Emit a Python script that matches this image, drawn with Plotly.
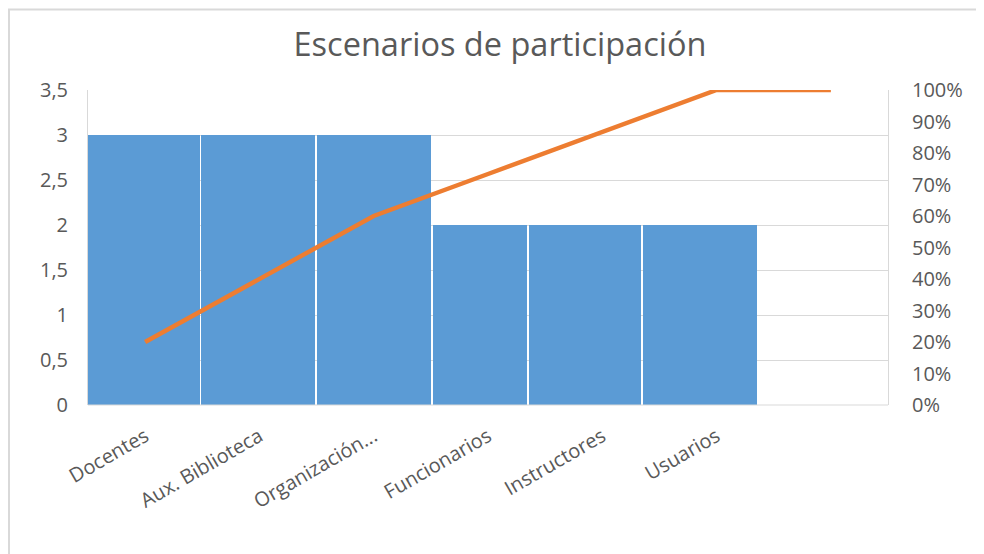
import plotly.graph_objects as go

categories = ["Docentes", "Aux. Biblioteca", "Organización...", "Funcionarios", "Instructores", "Usuarios", " "]
counts = [3, 3, 3, 2, 2, 2, None]
cumulative_pct = [0.20, 0.40, 0.60, 0.7333, 0.8667, 1.0, 1.0]

left_ticks = [0, 0.5, 1, 1.5, 2, 2.5, 3, 3.5]
left_tick_labels = ["0", "0,5", "1", "1,5", "2", "2,5", "3", "3,5"]
right_ticks = [i / 10 for i in range(11)]
right_tick_labels = [f"{i*10}%" for i in range(11)]

# style: bar placement within each category slot (mimics the original rendering)
bar_offsets = [-0.5, -0.511, -0.5, -0.482, -0.642, -0.644, -0.5]
bar_widths = [0.98, 0.997, 0.997, 0.823, 0.98, 0.997, 1.0]

font_family = "Open Sans, Noto Sans, sans-serif"
grey = "#595959"

fig = go.Figure()
fig.add_trace(go.Bar(
    x=categories, y=counts,
    marker=dict(color="#5B9BD5", line=dict(width=0)),
    offset=bar_offsets, width=bar_widths,
    showlegend=False, hoverinfo="skip",
))
fig.add_trace(go.Scatter(
    x=categories, y=cumulative_pct, yaxis="y2", mode="lines",
    line=dict(color="#ED7D31", width=4.5),
    showlegend=False, hoverinfo="skip",
))

fig.update_layout(
    width=976, height=546,
    margin=dict(l=80, r=96, t=82, b=149),
    paper_bgcolor="white", plot_bgcolor="white",
    bargap=0,
    title=dict(text="Escenarios de participación", x=(500 - 8) / 976, xanchor="center",
               y=1 - (45 - 8) / 546, yanchor="middle",
               font=dict(family="Open Sans, sans-serif", size=32.5, color=grey)),
    xaxis=dict(
        type="category", tickangle=-30, showgrid=False,
        tickfont=dict(family=font_family, size=20, color=grey),
        showline=False, ticks="", range=[-0.5, 6.5], ticklabelstandoff=15,
    ),
    yaxis=dict(
        range=[0, 3.5], tickvals=left_ticks, ticktext=left_tick_labels,
        showgrid=True, gridcolor="#D9D9D9", gridwidth=1,
        zeroline=False, showline=True, linecolor="#D9D9D9", linewidth=1,
        ticks="", ticklabelstandoff=15,
        tickfont=dict(family=font_family, size=20, color=grey),
    ),
    yaxis2=dict(
        overlaying="y", side="right", range=[0, 1],
        tickvals=right_ticks, ticktext=right_tick_labels,
        showgrid=False, zeroline=False, showline=True, linecolor="#D9D9D9", linewidth=1,
        ticks="", ticklabelstandoff=19,
        tickfont=dict(family=font_family, size=20, color=grey),
    ),
    shapes=[
        dict(type="rect", xref="paper", yref="paper",
             x0=-79 / 800, x1=(1000 - 88) / 800,
             y0=-200 / 315, y1=(405 - 9.5) / 315,
             line=dict(color="#D9D9D9", width=2), fillcolor="rgba(0,0,0,0)", layer="below"),
        dict(type="line", xref="paper", yref="paper", x0=0, x1=1, y0=0, y1=0,
             line=dict(color="#D9D9D9", width=1)),
    ],
)

fig.write_html("out.html")
